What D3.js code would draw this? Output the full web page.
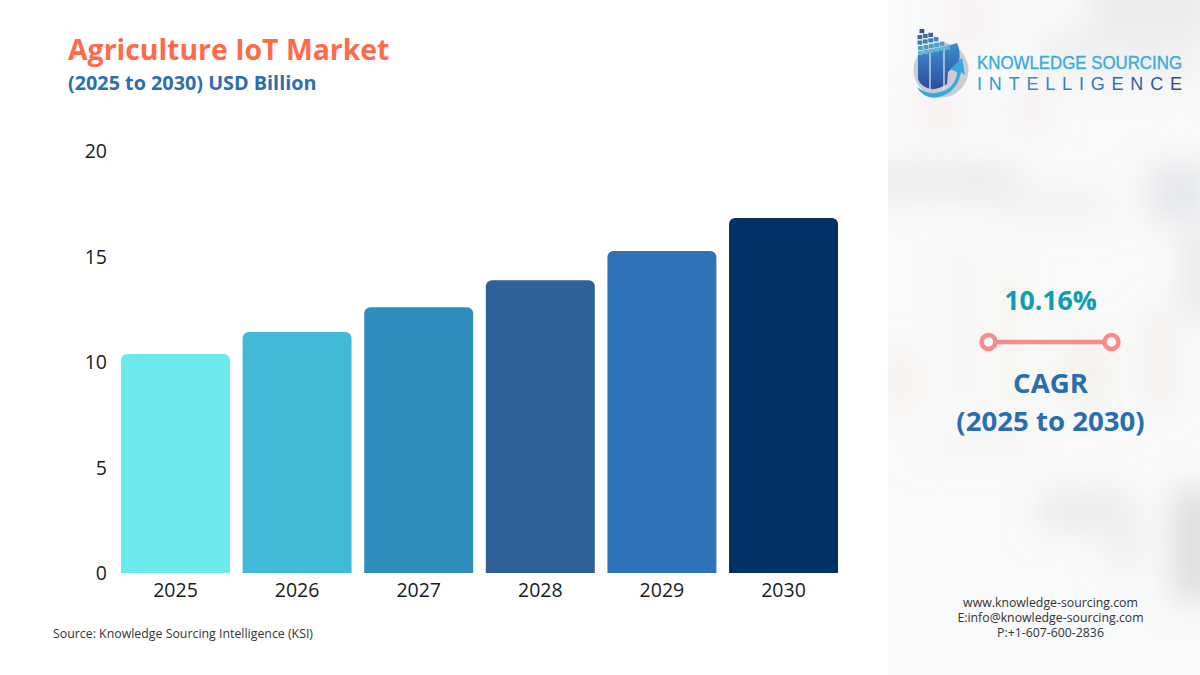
<!DOCTYPE html>
<html>
<head>
<meta charset="utf-8">
<title>Agriculture IoT Market</title>
<script src="https://cdn.jsdelivr.net/npm/d3@7"></script>
<style>
	html, body { margin: 0; padding: 0; background: #fff; }
	svg { display: block; }
	text { font-family: "Open Sans", sans-serif; }
</style>
</head>
<body>
<script>
	const years = ["2025", "2026", "2027", "2028", "2029", "2030"];
	const values = [10.38, 11.42, 12.6, 13.88, 15.26, 16.82];
	const barColors = ["#6de8ec", "#42b9d6", "#2e8fbe", "#2f6098", "#2c73b8", "#013263"];
	const yTicks = [0, 5, 10, 15, 20];
	const contactLines = ["www.knowledge-sourcing.com", "E:info@knowledge-sourcing.com", "P:+1-607-600-2836"];

	const w = 1200,
		h = 675;

	const svg = d3.select("body").append("svg").attr("width", w).attr("height", h);

	const xScale = d3.scaleBand().domain(years).range([121, 838]).paddingInner(0.104),
		yScale = d3.scaleLinear().domain([0, 20]).range([573, 151]);

	// бар со скруглённым верхом
	function topRounded(x, y, bw, bh, r) {
		const p = d3.path();
		p.moveTo(x, y + bh);
		p.lineTo(x, y + r);
		p.arcTo(x, y, x + r, y, r);
		p.lineTo(x + bw - r, y);
		p.arcTo(x + bw, y, x + bw, y + r, r);
		p.lineTo(x + bw, y + bh);
		p.closePath();
		return p.toString();
	}

	// правая панель с размытым фоном
	const defs = svg.append("defs");
	defs.append("filter").attr("id", "blur")
		.attr("filterUnits", "userSpaceOnUse")
		.attr("x", 800).attr("y", -100).attr("width", 500).attr("height", 875)
		.append("feGaussianBlur").attr("stdDeviation", 16);
	defs.append("clipPath").attr("id", "panel")
		.append("rect").attr("x", 888).attr("y", 0).attr("width", 312).attr("height", h);

	const panel = svg.append("g").attr("clip-path", "url(#panel)");
	panel.append("rect").attr("x", 888).attr("y", 0).attr("width", 312).attr("height", h).attr("fill", "#f8f9f9");

	const blobs = panel.append("g").attr("filter", "url(#blur)");
	[
		[870, 165, 150, 35, "#eaecec"], [1000, 190, 110, 30, "#f1f2f2"], [1150, 165, 60, 55, "#e4e6ea"],
		[1090, -20, 130, 50, "#ebebeb"], [920, 100, 40, 24, "#f8e9e6"], [1015, 90, 30, 40, "#f6eeed"],
		[950, -10, 40, 60, "#f7f1f0"], [1040, 30, 160, 50, "#f0f0f0"], [1185, 230, 30, 90, "#e6e7e8"],
		[955, 240, 12, 170, "#f0f1f1"], [1000, 260, 14, 160, "#f7f2ea"], [1060, 340, 50, 70, "#f5f2ec"],
		[1150, 310, 18, 100, "#f3ebe6"], [890, 355, 22, 50, "#f7ebe4"], [1040, 490, 90, 40, "#ebebeb"],
		[1110, 510, 30, 60, "#eeeeee"], [1175, 490, 40, 110, "#dadbdb"], [920, 440, 120, 14, "#f2f2f2"]
	].forEach(b => {
		blobs.append("rect").attr("x", b[0]).attr("y", b[1]).attr("width", b[2]).attr("height", b[3]).attr("fill", b[4]);
	});

	// заголовки
	svg.append("text").attr("x", 68).attr("y", 60)
		.attr("font-size", 28.4).attr("font-weight", 700).attr("fill", "#ff6b4a")
		.text("Agriculture IoT Market");
	svg.append("text").attr("x", 68).attr("y", 90)
		.attr("font-size", 19.8).attr("font-weight", 700).attr("fill", "#2c6fb0")
		.text("(2025 to 2030) USD Billion");

	// бары
	svg.selectAll("path.bar")
		.data(years)
		.enter()
		.append("path")
		.attr("class", "bar")
		.attr("d", (d, i) => topRounded(xScale(d), yScale(values[i]), xScale.bandwidth(), yScale(0) - yScale(values[i]), 6))
		.attr("fill", (d, i) => barColors[i]);

	// оси
	const xAxis = svg.append("g")
		.attr("transform", "translate(0,573)")
		.call(d3.axisBottom(xScale).tickSize(0).tickPadding(10));
	const yAxis = svg.append("g")
		.attr("transform", "translate(107,0.5)")
		.call(d3.axisLeft(yScale).tickValues(yTicks).tickSize(0).tickPadding(0));
	[xAxis, yAxis].forEach(a => {
		a.select(".domain").remove();
		a.selectAll("text")
			.attr("font-size", 19.5)
			.attr("fill", "#1a1a1a")
			.style("font-family", "'Open Sans', sans-serif");
	});

	svg.append("text").attr("x", 53).attr("y", 638)
		.attr("font-size", 12.35).attr("fill", "#333")
		.text("Source: Knowledge Sourcing Intelligence (KSI)");

	// CAGR
	svg.append("text").attr("x", 1050.5).attr("y", 309.5).attr("text-anchor", "middle")
		.attr("font-size", 26.7).attr("font-weight", 700).attr("fill", "#0f9bb0")
		.text("10.16%");
	svg.append("line").attr("x1", 988.5).attr("x2", 1111.5).attr("y1", 342).attr("y2", 342)
		.attr("stroke", "#f98b8b").attr("stroke-width", 4.5);
	[988.5, 1111.5].forEach(cx => {
		svg.append("circle").attr("cx", cx).attr("cy", 342).attr("r", 7)
			.attr("fill", "#fbfbfb").attr("stroke", "#f98b8b").attr("stroke-width", 4.5);
	});
	svg.append("text").attr("x", 1050.5).attr("y", 393).attr("text-anchor", "middle")
		.attr("font-size", 27.6).attr("font-weight", 700).attr("fill", "#2a6cb0")
		.text("CAGR");
	svg.append("text").attr("x", 1050.5).attr("y", 430.5).attr("text-anchor", "middle")
		.attr("font-size", 27.6).attr("font-weight", 700).attr("fill", "#2a6cb0")
		.text("(2025 to 2030)");

	svg.selectAll("text.contact")
		.data(contactLines)
		.enter()
		.append("text")
		.attr("class", "contact")
		.attr("x", 1050.5)
		.attr("y", (d, i) => 607 + i * 15)
		.attr("text-anchor", "middle")
		.attr("font-size", 12.3)
		.attr("fill", "#333")
		.text(d => d);

	// логотип
	const logoGrad = defs.append("linearGradient").attr("id", "logoBlue")
		.attr("x1", 0).attr("y1", 0).attr("x2", 0).attr("y2", 1);
	logoGrad.append("stop").attr("offset", 0).attr("stop-color", "#3c8fd0");
	logoGrad.append("stop").attr("offset", 1).attr("stop-color", "#2f4c9c");

	const textGrad = defs.append("linearGradient").attr("id", "logoText")
		.attr("x1", 0).attr("y1", 0).attr("x2", 1).attr("y2", 0);
	textGrad.append("stop").attr("offset", 0).attr("stop-color", "#2f9fd0");
	textGrad.append("stop").attr("offset", 0.5).attr("stop-color", "#2f7fb0");
	textGrad.append("stop").attr("offset", 1).attr("stop-color", "#33488f");

	const logo = svg.append("g");
	logo.append("circle").attr("cx", 941).attr("cy", 70).attr("r", 27.5).attr("fill", "#c9ccd0");
	logo.append("path")
		.attr("d", "M918,55 L957,43 Q961,52 959,62 L948,72 L947,84 Q938,90 930,89 Q920,86 918,79 Z")
		.attr("fill", "url(#logoBlue)");
	[930, 944].forEach(x => {
		logo.append("line").attr("x1", x).attr("x2", x).attr("y1", 48).attr("y2", 90)
			.attr("stroke", "#e4ebf3").attr("stroke-width", 1.2);
	});
	logo.append("path")
		.attr("d", "M917,87 Q926,94 935,93 Q947,92 953,84 Q957,78 957,72 L950,69 L962,58 L965,75 L961,72 Q959,84 951,91 Q938,101 926,96 Q920,93 917,87 Z")
		.attr("fill", "#3ba8dc");

	// контейнеры
	[
		[919.5, 33, 1, "#3e4f90"], [917.5, 39, 3, "#3f68a6"], [917.5, 44.5, 4, "#3f7fb5"],
		[918, 50, 5, "#4d9fc6"], [918, 55, 6, "#62b6d4"]
	].forEach(r => {
		d3.range(r[2]).forEach(i => {
			logo.append("rect")
				.attr("x", r[0] + i * 5.4)
				.attr("y", r[1] - 4 - i * 1.1)
				.attr("width", 4.8)
				.attr("height", 4.2)
				.attr("fill", r[3]);
		});
	});

	svg.append("text").attr("x", 977).attr("y", 69)
		.style("font-family", "'Liberation Sans', sans-serif")
		.attr("font-size", 17.5).attr("fill", "#36acdc").attr("stroke", "#36acdc").attr("stroke-width", 0.35)
		.attr("textLength", 205).attr("lengthAdjust", "spacingAndGlyphs")
		.text("KNOWLEDGE SOURCING");
	svg.append("text").attr("x", 977).attr("y", 89.5)
		.style("font-family", "'Liberation Sans', sans-serif")
		.attr("font-size", 18).attr("fill", "url(#logoText)")
		.attr("textLength", 205).attr("lengthAdjust", "spacing")
		.text("INTELLIGENCE");
</script>
</body>
</html>
